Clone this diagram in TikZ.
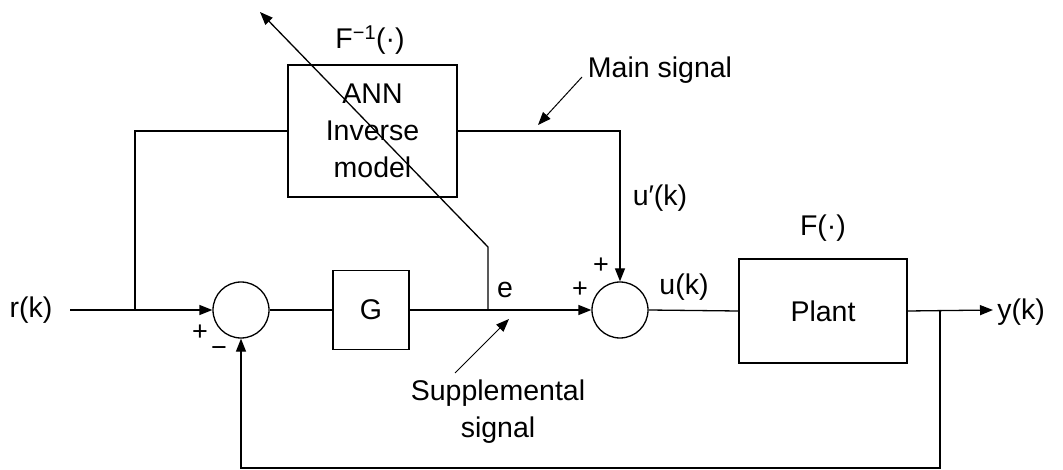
\documentclass[tikz,border=0pt]{standalone}
\usepackage{fontspec}
\setmainfont{Liberation Sans}
\usetikzlibrary{arrows.meta}
\begin{document}
\begin{tikzpicture}[x=1pt,y=-1pt,
  line width=1.3pt,
  every node/.style={font=\fontsize{28.5}{37}\selectfont},
  blk/.style={draw,inner sep=0pt,align=center},
  sumnode/.style={draw,circle,minimum size=56pt,inner sep=0pt},
  lbl/.style={inner sep=0pt},
  arr/.style={-{Triangle[length=13pt,width=10pt]}},
  sgn/.style={inner sep=0pt,font=\fontsize{27}{30}\selectfont}]
\useasboundingbox (0,0) rectangle (1063,470);
% blocks
\node[blk,minimum width=169pt,minimum height=132pt] (ann) at (372.5,131) {ANN\\Inverse\\model};
\node[blk,minimum width=76pt,minimum height=79pt] (g) at (371,310) {G};
\node[blk,minimum width=168pt,minimum height=104pt] (plant) at (823,311) {Plant};
\node[sumnode] (s1) at (241,310) {};
\node[sumnode] (s2) at (620,310) {};
% labels
\node[lbl] (rk) at (31,310) {r(k)};
\node[lbl] (yk) at (1021,312) {y(k)};
\node[lbl] (finv) at (370,40) {F\textsuperscript{\char"2212 1}(\char"00B7)};
\node[lbl] (fp) at (823,228) {F(\char"00B7)};
\node[lbl] (upk) at (660,198) {u\char"2032(k)};
\node[lbl] (uk) at (684,287) {u(k)};
\node[lbl] (e) at (505,290) {e};
\node[lbl] (ms) at (660,70) {Main signal};
\node[lbl,align=center] (ss) at (498,412) {Supplemental\\signal};
\node[sgn] (p1) at (200,333) {+};
\node[sgn] (m1) at (219,352) {\char"2212};
\node[sgn] (p2) at (580,290) {+};
\node[sgn] (p3) at (601,266) {+};
% coordinates
\coordinate (rs) at (70,310);
\coordinate (j1) at (135,310);
\coordinate (j2) at (488,310);
\coordinate (c3) at (488,247);
\coordinate (tip) at (260,12);
\coordinate (j3) at (940,310);
\coordinate (yend) at (993,310);
\coordinate (fb) at (940,468);
\coordinate (ms0) at (582,77);
\coordinate (ms1) at (538,125);
\coordinate (ss0) at (455,373);
\coordinate (ss1) at (509,319);
% connectors
\draw[arr] (rs) -- (s1.west);
\draw (j1) |- (ann.west);
\draw[arr] (ann.east) -| (s2.north);
\draw (s1.east) -- (g.west);
\draw[arr] (g.east) -- (s2.west);
\draw[arr] (j2) -- (c3) -- (tip);
\draw (s2.east) -- (plant.west);
\draw[arr] (plant.east) -- (yend);
\draw[arr] (j3) -- (fb) -| (s1.south);
\draw[arr,line width=1pt] (ms0) -- (ms1);
\draw[arr,line width=1pt] (ss0) -- (ss1);
\end{tikzpicture}
\end{document}
